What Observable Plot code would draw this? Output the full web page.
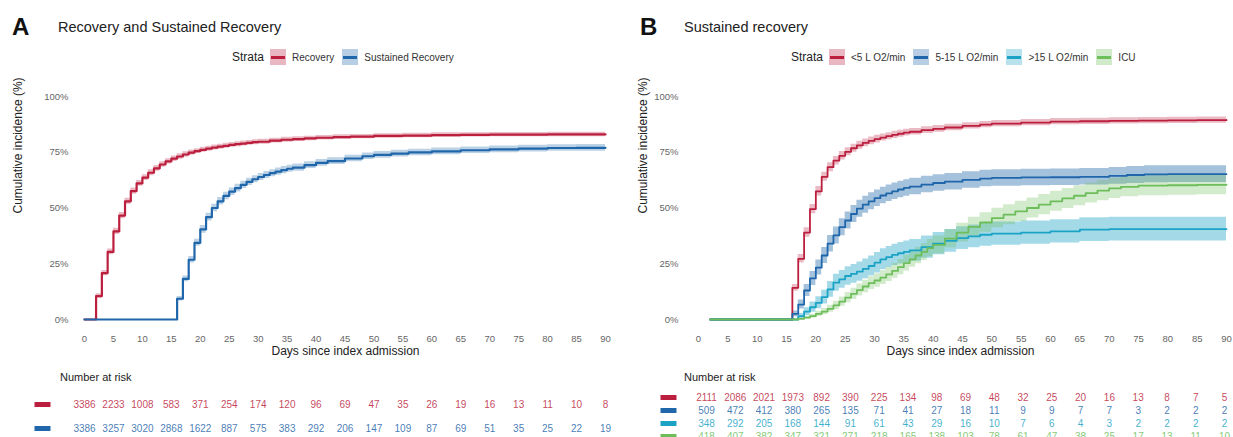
<!DOCTYPE html>
<html><head><meta charset="utf-8">
<script src="https://cdn.jsdelivr.net/npm/d3@7"></script>
<script src="https://cdn.jsdelivr.net/npm/@observablehq/plot@0.6"></script>
<style>
body{margin:0;background:#fff}
#root{position:relative;width:1233px;height:437px;overflow:hidden;font-family:"Liberation Sans",Arial,sans-serif;color:#222;background:#fff}
.abs{position:absolute;white-space:nowrap}
.legend{display:flex;align-items:center;height:16px}
.legend .lab{font-size:12px;color:#222;margin-right:6px}
.legend .key{width:16px;height:16px;position:relative;margin-right:6px;flex:none}
.legend .key i{position:absolute;left:1px;right:1px;top:6.5px;height:3px}
.legend .txt{font-size:10px;color:#333;margin-right:8px}
svg{overflow:visible}
</style></head>
<body><div id="root"></div>
<script>
// ---------- shared axis ticks ----------
const tickDays = [0,5,10,15,20,25,30,35,40,45,50,55,60,65,70,75,80,85,90];
const pctTicks = [0,0.25,0.5,0.75,1];

// ---------- Panel A ----------
const strataA = ["Recovery","Sustained Recovery"];
const colorsA = ["#BC1E3E","#1F66AA"];
// [day, cumulative incidence %, CI half-width %]
const recovery = [[0,0,0],[2,10.5,1.0],[3,20.8,1.2],[4,30.3,1.3],[5,39.5,1.4],[6,46.6,1.4],[7,53,1.4],[8,57.6,1.4],[9,61,1.3],[10,63.6,1.3],
 [11,65.8,1.3],[12,67.8,1.3],[13,69.5,1.2],[14,70.9,1.2],[15,72.1,1.2],[16,73.1,1.2],[17,74,1.2],[18,74.8,1.2],[19,75.5,1.1],[20,76.1,1.1],
 [21,76.6,1.1],[22,77.1,1.1],[23,77.5,1.1],[24,77.9,1.1],[25,78.3,1.1],[26,78.6,1.1],[27,78.9,1.1],[28,79.2,1.1],[29,79.5,1.1],[30,79.7,1.1],
 [32,80.2,1.1],[34,80.6,1.1],[36,80.9,1.1],[38,81.2,1.0],[40,81.5,1.0],[43,81.8,1.0],[46,82.0,1.0],[50,82.3,1.0],[55,82.5,1.0],[60,82.7,1.0],
 [65,82.8,1.0],[70,82.9,1.0],[80,83.0,1.0],[90,83.0,1.0]];
const sustained = [[0,0,0],[16,9.3,1.0],[17,18.2,1.3],[18,26.8,1.5],[19,34.4,1.6],[20,40.4,1.7],[21,45.9,1.7],[22,50,1.7],[23,53,1.7],[24,55.4,1.7],
 [25,57.3,1.7],[26,58.9,1.7],[27,60.4,1.6],[28,61.7,1.6],[29,62.9,1.6],[30,63.9,1.6],[31,64.8,1.6],[32,65.6,1.6],[33,66.3,1.6],[34,67,1.6],
 [35,67.6,1.6],[36,68.1,1.6],[38,69.2,1.5],[40,70.2,1.5],[42,71.0,1.5],[45,72.2,1.5],[48,73.2,1.5],[50,73.8,1.5],[53,74.4,1.5],[56,74.9,1.5],
 [60,75.4,1.5],[65,75.9,1.5],[70,76.3,1.5],[75,76.6,1.5],[80,76.9,1.5],[85,77.0,1.5],[90,77.0,1.5]];
const riskRecovery  = [3386,2233,1008,583,371,254,174,120,96,69,47,35,26,19,16,13,11,10,8];
const riskSustained = [3386,3257,3020,2868,1622,887,575,383,292,206,147,109,87,69,51,35,25,22,19];

// ---------- Panel B ----------
const strataB = ["<5 L O2/min","5-15 L O2/min",">15 L O2/min","ICU"];
const colorsB = ["#BC1E3E","#1F66AA","#1BA3C6","#6DBE5B"];
const sustLt5 = [[2,0,0],[16,14.2,1.5],[17,27.2,1.9],[18,39,2.1],[19,49.5,2.1],[20,57.5,2.1],[21,64,2],[22,68.3,2],[23,71.2,1.9],[24,73.4,1.9],
 [25,75.2,1.8],[26,76.8,1.8],[27,78.1,1.8],[28,79.2,1.7],[29,80.1,1.7],[30,80.9,1.7],[31,81.6,1.6],[32,82.2,1.6],[33,82.8,1.6],[34,83.3,1.6],
 [35,83.8,1.5],[36,84.2,1.5],[38,84.9,1.5],[40,85.5,1.5],[42,86.1,1.5],[45,86.8,1.4],[48,87.4,1.4],[50,87.8,1.4],[55,88.3,1.4],[60,88.7,1.4],
 [65,88.9,1.4],[70,89.1,1.4],[75,89.2,1.4],[80,89.3,1.4],[85,89.4,1.4],[90,89.5,1.4]];
const sust515 = [[2,0,0],[16,2.5,1.3],[17,6.7,2.0],[18,13,2.7],[19,18.4,3.1],[20,23.3,3.4],[21,28.7,3.6],[22,34,3.7],[23,37.7,3.8],[24,41.4,3.8],
 [25,44.4,3.8],[26,47.3,3.8],[27,49.7,3.8],[28,51.5,3.8],[29,53,3.8],[30,54.4,3.7],[31,55.6,3.7],[32,56.6,3.7],[33,57.5,3.7],[34,58.3,3.7],
 [35,59,3.7],[36,59.6,3.7],[38,60.5,3.7],[40,61.2,3.7],[42,61.8,3.7],[45,62.6,3.7],[48,63.2,3.7],[50,63.5,3.7],[55,63.7,3.7],[60,63.8,3.7],
 [65,64.0,3.7],[70,64.4,3.8],[73,64.8,3.8],[76,65.1,3.8],[80,65.2,3.8],[90,65.2,3.8]];
const sustGt15 = [[2,0,0],[16,0,0],[17,1.5,1.2],[18,3.5,1.8],[19,5.5,2.3],[20,7.5,2.7],[21,10,3.1],[22,13.5,3.5],[23,16.5,3.8],[24,18,4],
 [25,19.5,4.1],[26,20.5,4.2],[27,21.5,4.3],[28,22.7,4.4],[29,24,4.5],[30,25.5,4.6],[31,27,4.7],[32,28,4.7],[33,29,4.8],[34,29.7,4.8],
 [35,30.3,4.9],[36,31,4.9],[38,32.5,5],[40,34,5],[42,35.3,5.1],[44,36.5,5.1],[46,37.3,5.1],[48,38,5.2],[50,38.5,5.2],[55,39,5.2],
 [60,39.5,5.2],[65,40.3,5.3],[70,40.5,5.3],[90,40.5,5.3]];
const sustICU = [[2,0,0],[16,0,0],[17,0.3,0.3],[18,0.8,0.6],[19,1.5,0.9],[20,2.5,1.2],[21,3.5,1.4],[22,4.8,1.6],[23,6.3,1.9],[24,8,2.1],
 [25,9.8,2.3],[26,11.5,2.5],[27,13.2,2.7],[28,14.8,2.8],[29,16.3,2.9],[30,17.5,3],[31,18.8,3.1],[32,20.2,3.2],[33,21.8,3.3],[34,23.5,3.4],
 [35,25.3,3.5],[36,27,3.6],[37,28.7,3.7],[38,30.3,3.8],[39,32,3.9],[40,33.5,4],[42,36.3,4.1],[44,39,4.2],[46,41.5,4.3],[48,43.5,4.4],
 [50,45.5,4.4],[52,47,4.5],[54,48.5,4.5],[56,50,4.5],[58,51.5,4.5],[60,53,4.5],[62,54.3,4.5],[64,55.5,4.5],[66,56.7,4.5],[68,57.8,4.5],
 [70,58.8,4.5],[72,59.5,4.5],[75,60,4.5],[80,60.2,4.5],[85,60.4,4.5],[90,60.5,4.5]];
const riskLt5  = [2111,2086,2021,1973,892,390,225,134,98,69,48,32,25,20,16,13,8,7,5];
const risk515  = [509,472,412,380,265,135,71,41,27,18,11,9,9,7,7,3,2,2,2];
const riskGt15 = [348,292,205,168,144,91,61,43,29,16,10,7,6,4,3,2,2,2,2];
const riskICU  = [418,407,382,347,321,271,218,165,138,103,78,61,47,38,25,17,13,11,10];

// ---------- helpers ----------
const FONT = '"Liberation Sans", Arial, sans-serif';
const root = document.getElementById("root");
function txt(text, left, cy, fs, opts = {}) {
  const d = document.createElement("div");
  d.className = "abs";
  d.textContent = text;
  d.style.left = left + "px";
  d.style.top = (cy - fs / 2) + "px";
  d.style.fontSize = fs + "px";
  d.style.lineHeight = fs + "px";
  if (opts.bold) d.style.fontWeight = "bold";
  d.style.color = opts.color || "#222";
  root.appendChild(d);
  return d;
}
function place(node, left, top) {
  const w = document.createElement("div");
  w.className = "abs";
  w.style.left = left + "px";
  w.style.top = top + "px";
  w.appendChild(node);
  root.appendChild(w);
}
function legend(left, cy, names, colors) {
  const d = document.createElement("div");
  d.className = "abs legend";
  d.style.left = left + "px";
  d.style.top = (cy - 8) + "px";
  const lab = document.createElement("span"); lab.className = "lab"; lab.textContent = "Strata"; d.appendChild(lab);
  names.forEach((n, i) => {
    const k = document.createElement("span"); k.className = "key";
    const c = d3.color(colors[i]); c.opacity = 0.32; k.style.background = c + "";
    const ln = document.createElement("i"); ln.style.background = colors[i]; k.appendChild(ln);
    d.appendChild(k);
    const t = document.createElement("span"); t.className = "txt"; t.textContent = n; d.appendChild(t);
  });
  root.appendChild(d);
}
function rows(arr, name) {
  return arr.map(([day, p, h]) => ({day, y: p / 100, lo: Math.max(0, p - h) / 100, hi: (p + h) / 100, strata: name}));
}
function curvePlot({series, names, colors, opac, width, xRange, marginLeft, marginRight, tickPad, titleDx, lineWidth}) {
  const data = series.flatMap((s, i) => rows(s, names[i]));
  return Plot.plot({
    width, height: 280, marginLeft, marginRight, marginTop: 16, marginBottom: 30,
    x: {domain: [0, 90], range: xRange},
    y: {domain: [0, 1], range: [239, 16]},
    color: {domain: names, range: colors},
    style: {fontFamily: FONT, fontSize: "9px", background: "transparent", overflow: "visible"},
    marks: [
      Plot.axisX(tickDays, {tickSize: 0, tickPadding: 4.5, label: null, color: "#666", fontSize: 9.5}),
      Plot.axisY(pctTicks, {tickSize: 0, tickPadding: tickPad, tickFormat: d3.format(".0%"), label: null, color: "#666", fontSize: 9.5}),
      Plot.areaY(data, {x: "day", y1: "lo", y2: "hi", z: "strata", fill: "strata",
        fillOpacity: d => opac[names.indexOf(d.strata)], curve: "step-after"}),
      Plot.line(data, {x: "day", y: "y", z: "strata", stroke: "strata", strokeWidth: lineWidth, curve: "step-after"}),
      Plot.text(["Days since index admission"], {frameAnchor: "bottom", dy: 24.5, fontSize: 12, fill: "#222"}),
      Plot.text(["Cumulative incidence (%)"], {frameAnchor: "left", dx: titleDx, rotate: -90, fontSize: 12, fill: "#222"})
    ]
  });
}
const barSymbol = {draw(ctx) { ctx.rect(-8, -2.5, 16, 5); }};
function riskPlot({names, colors, counts, width, xRange, marginLeft, marginRight, yRange, markerDx}) {
  const data = counts.flatMap((arr, i) => arr.map((n, j) => ({day: tickDays[j], n, strata: names[i]})));
  return Plot.plot({
    width, height: 52, marginLeft, marginRight, marginTop: 0, marginBottom: 0,
    x: {domain: [0, 90], range: xRange, axis: null},
    y: {type: "point", domain: names, range: yRange, padding: 0, axis: null},
    color: {domain: names, range: colors},
    style: {fontFamily: FONT, fontSize: "10px", background: "transparent", overflow: "visible"},
    marks: [
      Plot.dot(names, {x: () => 0, y: d => d, dx: markerDx, symbol: barSymbol, fill: d => d, stroke: "none"}),
      Plot.text(data, {x: "day", y: "strata", text: d => String(d.n), fill: "strata", fillOpacity: 0.85, fontSize: 10})
    ]
  });
}

// ---------- Panel A ----------
txt("A", 12, 27, 24, {bold: true, color: "#111"});
txt("Recovery and Sustained Recovery", 58, 27, 14.5);
legend(232, 57, strataA, colorsA);
place(curvePlot({series: [recovery, sustained], names: strataA, colors: colorsA, opac: [0.3, 0.3],
  width: 616, xRange: [84, 605], marginLeft: 84, marginRight: 10, tickPad: 16, titleDx: -66, lineWidth: 2.2}), 0, 80);
txt("Number at risk", 60, 377, 11);
place(riskPlot({names: strataA, colors: colorsA, counts: [riskRecovery, riskSustained],
  width: 616, xRange: [84, 605], marginLeft: 84, marginRight: 10, yRange: [19, 43], markerDx: -42}), 0, 385);

// ---------- Panel B ----------
txt("B", 640, 27, 24, {bold: true, color: "#111"});
txt("Sustained recovery", 684, 27, 14.5);
legend(791, 57, strataB, colorsB);
place(curvePlot({series: [sustLt5, sust515, sustGt15, sustICU], names: strataB, colors: colorsB, opac: [0.3, 0.4, 0.4, 0.3],
  width: 613, xRange: [78, 606], marginLeft: 78, marginRight: 11, tickPad: 20, titleDx: -55, lineWidth: 1.8}), 620, 80);
txt("Number at risk", 684, 377, 11);
place(riskPlot({names: strataB, colors: colorsB, counts: [riskLt5, risk515, riskGt15, riskICU],
  width: 613, xRange: [86, 604], marginLeft: 78, marginRight: 11, yRange: [12, 51], markerDx: -38}), 620, 385);
</script></body></html>
